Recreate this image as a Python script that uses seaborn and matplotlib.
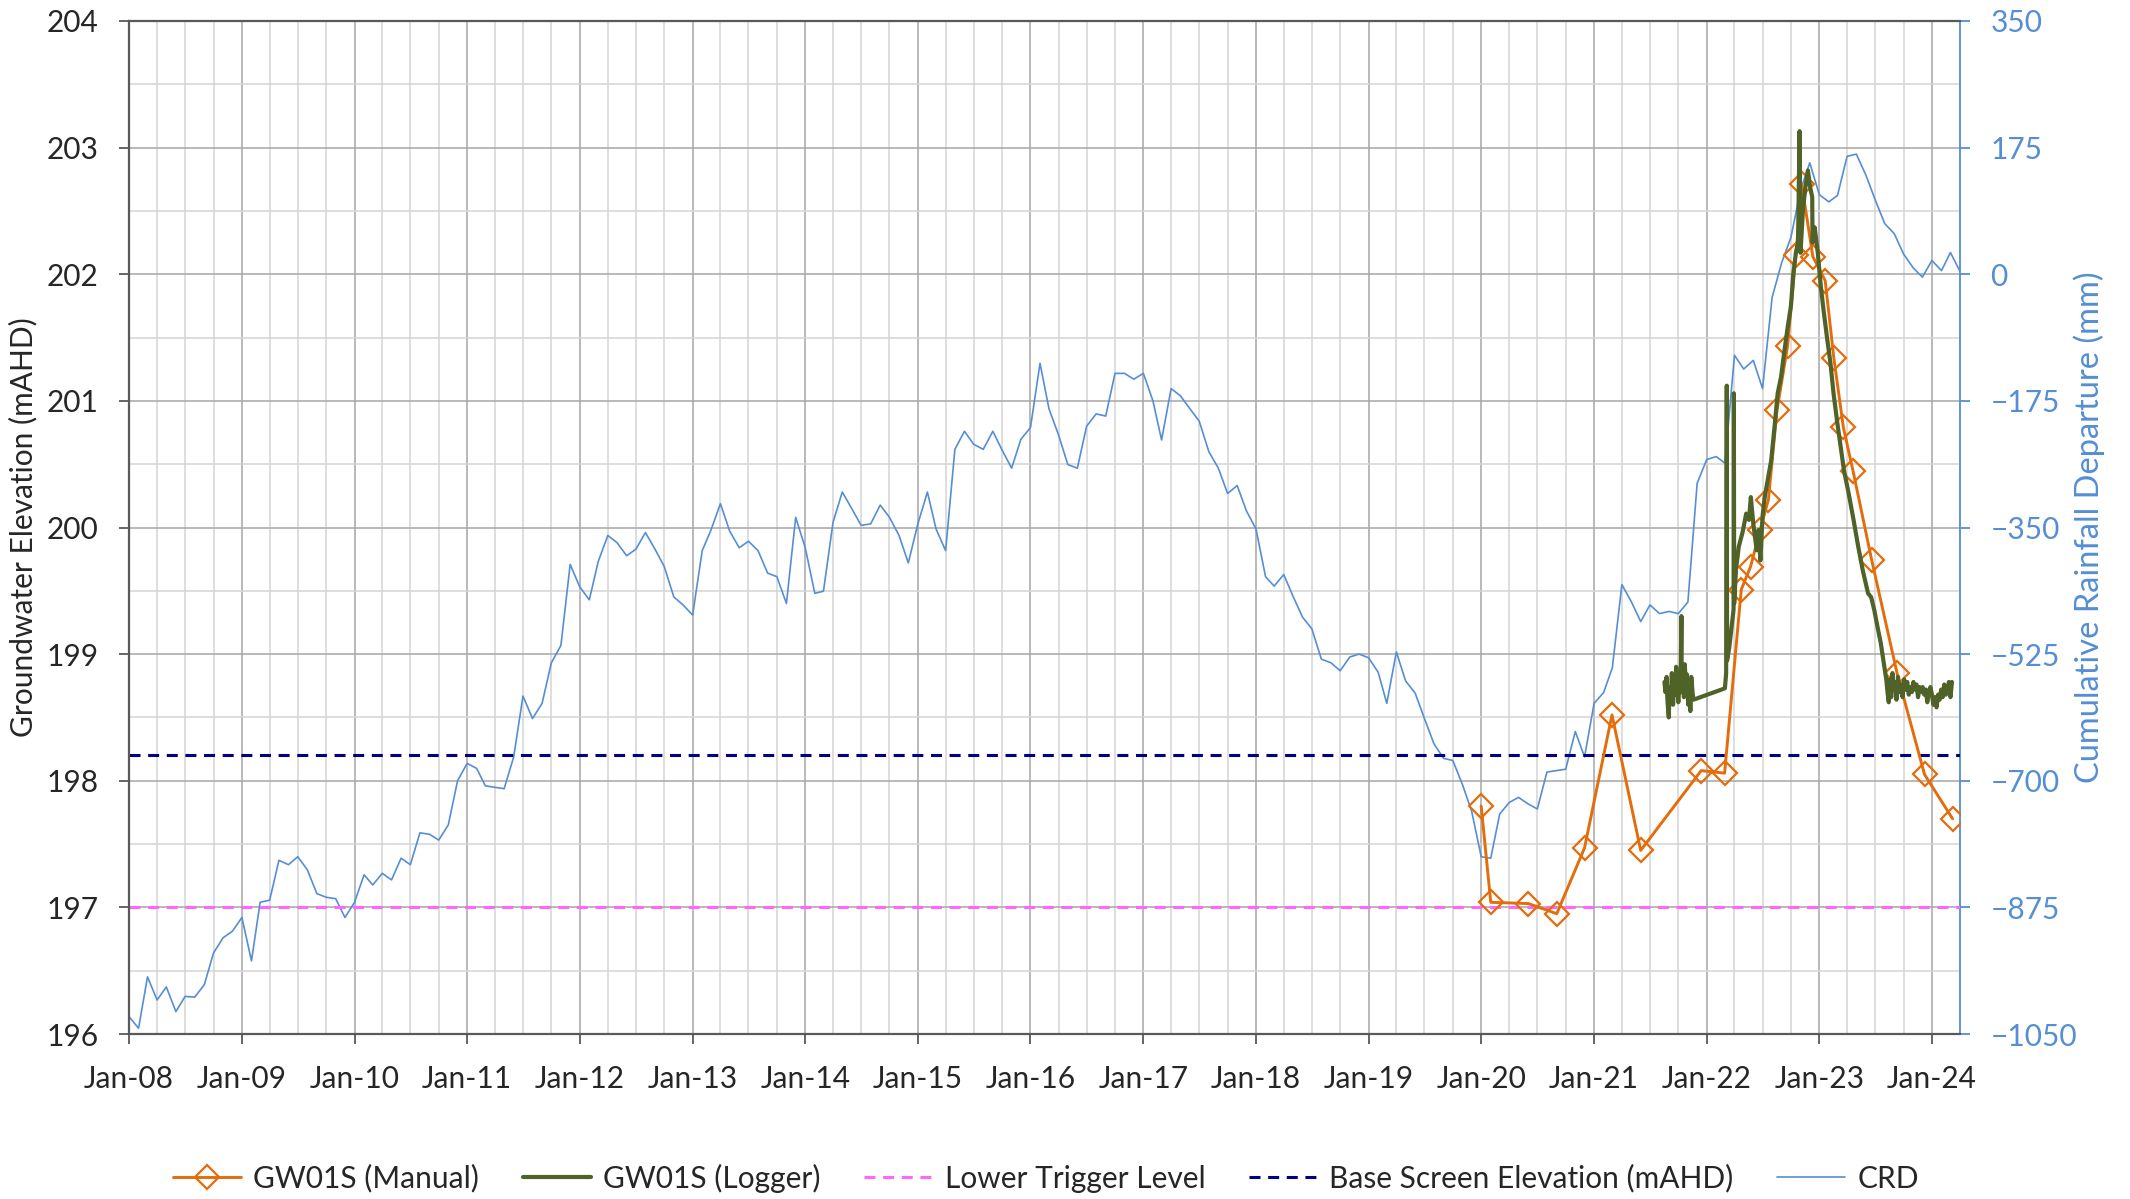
import numpy as np
import pandas as pd
import matplotlib
matplotlib.use("Agg")
import matplotlib.pyplot as plt
import matplotlib.dates as mdates
from matplotlib.ticker import MultipleLocator, FixedLocator
import seaborn as sns

# ---------------- data ----------------
# Cumulative rainfall departure (mm), monthly Jan-2008 .. Apr-2024
crd_mm = [
    -1026, -1042, -971, -1003, -985, -1019, -998, -999, -982, -938, -917, -908,
    -889, -949, -868, -865, -810, -816, -805, -823, -856, -861, -863, -889,
    -868, -830, -844, -828, -837, -807, -816, -772, -774, -782, -761, -700,
    -676, -683, -707, -709, -711, -667, -583, -614, -593, -537, -513, -401,
    -432, -450, -397, -361, -371, -389, -380, -357, -380, -404, -446, -457,
    -471, -382, -354, -317, -355, -378, -369, -382, -413, -418, -455, -336,
    -378, -441, -438, -343, -301, -324, -347, -345, -319, -336, -361, -399,
    -345, -301, -352, -382, -242, -217, -235, -242, -217, -243, -268, -228,
    -212, -123, -186, -222, -263, -268, -210, -193, -196, -137, -137, -145,
    -137, -175, -229, -158, -168, -186, -203, -245, -268, -303, -292, -327,
    -352, -418, -431, -415, -445, -474, -490, -532, -537, -548, -529, -525,
    -530, -550, -593, -522, -562, -579, -614, -649, -669, -672, -705, -742,
    -805, -807, -746, -730, -723, -732, -739, -688, -686, -684, -632, -667,
    -593, -578, -544, -429, -452, -480, -457, -469, -466, -469, -453, -289,
    -256, -252, -261, -112, -131, -119, -158, -32, 16, 51, 116, 154,
    110, 100, 109, 163, 166, 137, 103, 70, 56, 28, 9, -4,
    19, 5, 30, 4,
]
crd_dates = pd.date_range("2008-01-01", periods=len(crd_mm), freq="MS")

manual_dates = [
    "2020-01-01", "2020-02-01", "2020-06-02", "2020-09-02", "2020-12-01",
    "2021-02-28", "2021-06-01", "2021-12-14", "2022-02-28", "2022-04-23",
    "2022-05-23", "2022-06-23", "2022-07-20", "2022-08-17", "2022-09-20",
    "2022-10-17", "2022-11-05", "2022-12-11", "2023-01-20", "2023-02-17",
    "2023-03-20", "2023-04-20", "2023-06-20", "2023-09-10", "2023-12-08",
    "2024-03-08",
]
manual_levels = [
    197.80, 197.04, 197.03, 196.95, 197.47,
    198.52, 197.45, 198.08, 198.06, 199.51,
    199.69, 199.98, 200.22, 200.93, 201.43,
    202.15, 202.71, 202.14, 201.95, 201.34,
    200.79, 200.45, 199.74, 198.85, 198.05,
    197.70,
]

logger_dates = [
    "2021-08-17", "2021-08-20", "2021-08-24", "2021-08-27", "2021-08-31",
    "2021-09-03", "2021-09-07", "2021-09-10", "2021-09-14", "2021-09-17",
    "2021-09-21", "2021-09-24", "2021-09-28", "2021-10-01", "2021-10-05",
    "2021-10-08", "2021-10-11", "2021-10-12", "2021-10-15", "2021-10-19",
    "2021-10-22", "2021-10-26", "2021-10-29", "2021-11-02", "2021-11-05",
    "2021-11-09", "2021-11-12", "2021-11-16", "2021-11-19",
    "2022-03-01", "2022-03-05", "2022-03-07", "2022-03-08", "2022-03-15",
    "2022-03-22", "2022-03-29", "2022-03-30", "2022-03-31",
    "2022-04-06", "2022-04-15", "2022-04-27", "2022-05-09", "2022-05-18",
    "2022-05-24", "2022-06-01", "2022-06-12", "2022-06-18", "2022-06-24",
    "2022-07-01", "2022-07-08", "2022-07-29", "2022-08-09", "2022-08-19",
    "2022-08-30", "2022-09-09", "2022-09-21", "2022-10-01", "2022-10-09",
    "2022-10-17", "2022-10-24", "2022-10-29", "2022-11-01", "2022-11-09",
    "2022-11-17", "2022-11-25", "2022-12-02", "2022-12-09", "2022-12-10",
    "2022-12-17", "2022-12-27", "2023-01-06", "2023-01-16", "2023-01-27",
    "2023-02-06", "2023-02-16", "2023-02-27", "2023-03-10", "2023-03-22",
    "2023-04-06", "2023-04-22", "2023-05-07", "2023-05-22", "2023-06-08",
    "2023-06-18", "2023-06-28", "2023-07-09", "2023-07-19", "2023-07-29",
    "2023-08-06", "2023-08-10", "2023-08-14", "2023-08-18", "2023-08-22",
    "2023-08-26", "2023-08-30", "2023-09-03", "2023-09-08", "2023-09-13",
    "2023-09-18", "2023-09-23", "2023-09-28", "2023-10-03", "2023-10-08",
    "2023-10-13", "2023-10-18", "2023-10-23", "2023-10-28", "2023-11-02",
    "2023-11-07", "2023-11-12", "2023-11-17", "2023-11-22", "2023-11-27",
    "2023-12-02", "2023-12-07", "2023-12-12", "2023-12-17", "2023-12-22",
    "2023-12-27", "2024-01-01", "2024-01-06", "2024-01-11", "2024-01-16",
    "2024-01-21", "2024-01-26", "2024-01-31", "2024-02-05", "2024-02-10",
    "2024-02-15", "2024-02-20", "2024-02-25", "2024-03-01", "2024-03-06",
]
logger_levels = [
    198.78, 198.70, 198.82, 198.62, 198.50,
    198.74, 198.66, 198.85, 198.60, 198.78,
    198.68, 198.90, 198.72, 198.62, 198.80,
    198.70, 199.30, 198.75, 198.88, 198.66,
    198.92, 198.70, 198.84, 198.60, 198.76,
    198.55, 198.82, 198.70, 198.64,
    198.73, 198.85, 201.12, 198.95, 199.05,
    199.20, 199.35, 201.06, 199.40,
    199.67, 199.85, 199.96, 200.11, 200.06,
    200.24, 200.03, 199.82, 199.98, 199.74,
    200.09, 200.24, 200.53, 200.80, 201.06,
    201.19, 201.38, 201.59, 201.75, 202.01,
    202.17, 202.25, 203.13, 202.17, 202.51,
    202.69, 202.82, 202.69, 202.61, 202.25,
    202.37, 202.17, 201.90, 201.69, 201.48,
    201.30, 201.06, 200.85, 200.66, 200.45,
    200.27, 200.06, 199.85, 199.66, 199.48,
    199.45, 199.35, 199.21, 199.09, 198.93,
    198.80, 198.70, 198.62, 198.80, 198.66,
    198.85, 198.72, 198.78, 198.64, 198.82,
    198.70, 198.76, 198.66, 198.80, 198.72,
    198.78, 198.68, 198.74, 198.70, 198.78,
    198.72, 198.76, 198.66, 198.74, 198.70,
    198.74, 198.68, 198.72, 198.62, 198.70,
    198.74, 198.68, 198.60, 198.66, 198.58,
    198.68, 198.64, 198.72, 198.66, 198.76,
    198.68, 198.70, 198.78, 198.66, 198.78,
]

lower_trigger = 197.0
base_screen = 198.2

crd_df = pd.DataFrame({"date": crd_dates, "crd": crd_mm})
manual_df = pd.DataFrame({"date": pd.to_datetime(manual_dates), "level": manual_levels})
logger_df = pd.DataFrame({"date": pd.to_datetime(logger_dates), "level": logger_levels})

# ---------------- style ----------------
sns.set_theme(style="white")
plt.rcParams["font.family"] = ["Lato", "DejaVu Sans"]

C_MAN = "#E46C0A"
C_LOG = "#4F6228"
C_CRD = "#558ED5"
C_TRIG = "#FF66FF"
C_BASE = "#000080"
C_TXT = "#262626"
C_SPINE = "#595959"
FS = 21.5

fig = plt.figure(figsize=(21.3, 11.99), dpi=100)
ax = fig.add_axes([129 / 2130, 1 - 1034 / 1199, (1960 - 129) / 2130, (1034 - 21) / 1199])
ax2 = ax.twinx()

# grid drawn on the secondary (lower) axes
ax2.xaxis.set_visible(True)
ax2.tick_params(axis="x", which="both", bottom=False, top=False,
                labelbottom=False, labeltop=False)

# CRD on secondary axis
sns.lineplot(data=crd_df, x="date", y="crd", ax=ax2, color=C_CRD, lw=1.2,
             estimator=None, sort=False, label="CRD")

# put primary axes above
ax.set_zorder(ax2.get_zorder() + 1)
ax.patch.set_visible(False)

sns.lineplot(data=manual_df, x="date", y="level", ax=ax, color=C_MAN, lw=2.1,
             estimator=None, sort=False, marker="D", markersize=12,
             markerfacecolor="none", markeredgecolor=C_MAN, markeredgewidth=1.6,
             label="GW01S (Manual)", zorder=3)
sns.lineplot(data=logger_df, x="date", y="level", ax=ax, color=C_LOG, lw=3.0,
             estimator=None, sort=False, label="GW01S (Logger)", zorder=4)
ax.axhline(lower_trigger, color=C_TRIG, lw=2.2, dashes=(3.6, 2.5),
           label="Lower Trigger Level", zorder=2)
ax.axhline(base_screen, color=C_BASE, lw=2.2, dashes=(3.6, 2.5),
           label="Base Screen Elevation (mAHD)", zorder=2)

# limits
xmin, xmax = pd.Timestamp("2008-01-01"), pd.Timestamp("2024-04-01")
ax.set_xlim(xmin, xmax)
ax.set_ylim(196, 204)
ax2.set_ylim(-1050, 350)

# ticks
ax.xaxis.set_major_locator(mdates.YearLocator())
ax.xaxis.set_minor_locator(mdates.MonthLocator(bymonth=[4, 7, 10]))
ax.xaxis.set_major_formatter(mdates.DateFormatter("%b-%y"))
ax.yaxis.set_major_locator(MultipleLocator(1))
ax.yaxis.set_minor_locator(MultipleLocator(0.5))
ax2.yaxis.set_major_locator(MultipleLocator(175))
ax2.yaxis.set_minor_locator(MultipleLocator(87.5))

ax.tick_params(axis="x", which="major", direction="out", length=7, width=1.3,
               color=C_SPINE, labelsize=FS, labelcolor=C_TXT, pad=15, bottom=True)
ax.tick_params(axis="x", which="minor", length=0)
ax.tick_params(axis="y", which="major", direction="out", length=7, width=1.3,
               color=C_SPINE, labelsize=FS, labelcolor=C_TXT, pad=15, left=True)
ax.tick_params(axis="y", which="minor", length=0)
ax2.tick_params(axis="y", which="major", direction="out", length=7, width=1.3,
                color=C_CRD, labelsize=FS, labelcolor=C_CRD, pad=15, right=True)
ax2.tick_params(axis="y", which="minor", length=0)

# gridlines on ax2 (below data)
ax2.grid(True, which="major", axis="both", color="#A6A6A6", lw=1.1)
ax2.grid(True, which="minor", axis="both", color="#D4D4D4", lw=1.1)
ax2.set_axisbelow(True)
ax.grid(False)

# spines
for s in ["left", "bottom", "top"]:
    ax.spines[s].set_color(C_SPINE)
    ax.spines[s].set_linewidth(1.6)
ax.spines["right"].set_visible(False)
for s in ["left", "bottom", "top"]:
    ax2.spines[s].set_visible(False)
ax2.spines["right"].set_color(C_CRD)
ax2.spines["right"].set_linewidth(1.3)

ax.set_xlabel("")
ax.set_ylabel("")
ax2.set_xlabel("")
ax2.set_ylabel("")

fig.text(23 / 2130, 1 - 527.5 / 1199, "Groundwater Elevation (mAHD)", rotation=90,
         ha="center", va="center", fontsize=FS, color=C_TXT)
fig.text(2089 / 2130, 1 - 527.5 / 1199, "Cumulative Rainfall Departure (mm)", rotation=90,
         ha="center", va="center", fontsize=23.5, color=C_CRD)

# legend
h1, l1 = ax.get_legend_handles_labels()
h2, l2 = ax2.get_legend_handles_labels()
for a in (ax, ax2):
    if a.get_legend() is not None:
        a.get_legend().remove()
hmap = dict(zip(l1 + l2, h1 + h2))
order = ["GW01S (Manual)", "GW01S (Logger)", "Lower Trigger Level",
         "Base Screen Elevation (mAHD)", "CRD"]
fig.legend([hmap[k] for k in order], order, loc="center",
           bbox_to_anchor=(0.491, 1 - 1178 / 1199), ncol=5, frameon=False,
           fontsize=FS, handlelength=2.3, handletextpad=0.4, columnspacing=1.45,
           labelcolor=C_TXT)

fig.savefig("out.png", dpi=100, facecolor="white")
